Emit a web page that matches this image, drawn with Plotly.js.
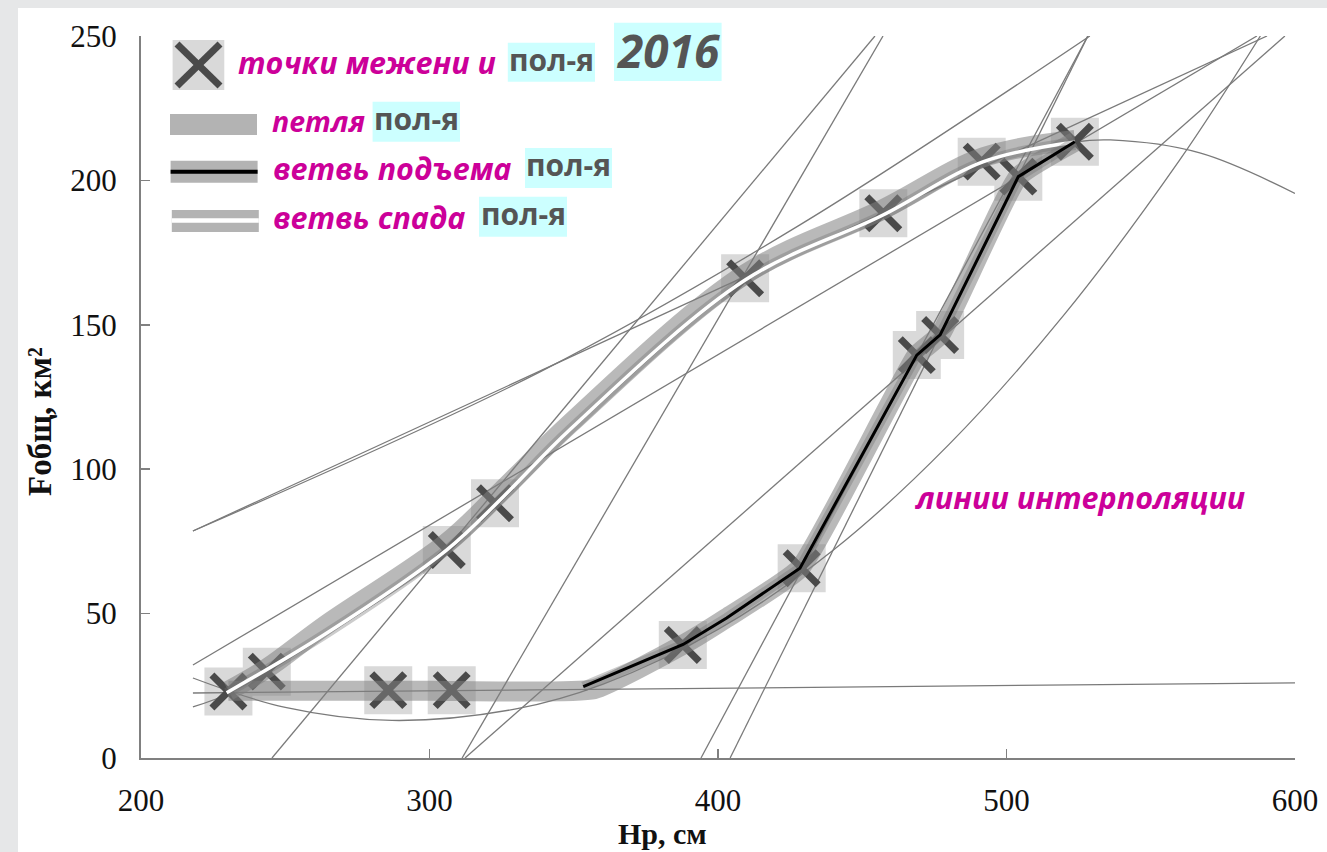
<!DOCTYPE html>
<html><head><meta charset="utf-8">
<script src="https://cdn.plot.ly/plotly-3.0.1.min.js"></script>
<style>
html,body{margin:0;padding:0;background:#e6e7e8;width:1327px;height:852px;overflow:hidden}
#chart{position:absolute;left:18px;top:8px;width:1309px;height:844px;background:#fff}
</style></head><body><div id="chart"></div>
<script>
// ---- data ----
// low-water / flood observation points (Hр, см ; Fобщ, км²)
const pointsH = [230.3, 243.6, 285.7, 307.7, 306, 322.7, 387.8, 429, 468.9, 477, 409.4, 457.3, 491.4, 504.1, 523.7];
const pointsF = [23.0, 29.9, 23.5, 23.5, 72, 88.2, 39.1, 65.7, 139.5, 146.5, 166.1, 188.6, 206.5, 201.3, 213.4];
// rising branch
const riseH = [353.3, 387.9, 403, 428.4, 468.9, 477, 504.1, 523.7];
const riseF = [24.7, 39.3, 48.5, 65.7, 139.5, 146.5, 201.3, 213.4];
// falling branch
const fallH = [523.7, 491.8, 457.2, 409.4, 349, 325.5, 305.9, 264.3, 229.7];
const fallF = [213.3, 206.4, 188, 165.5, 114, 90.4, 72, 43.2, 22.6];
// loop band (upper part, then low-water part + rise)
const loopUpH = [523.7, 492, 457.2, 409.4, 349, 325, 306, 264, 243.6, 230.3];
const loopUpF = [214, 208, 190, 167.5, 116, 92.5, 74.5, 46, 31, 23.3];
const loopLowH = [230.3, 300, 357, 388, 403, 428.4, 468.9, 477, 504.1, 523.7];
const loopLowF = [23.3, 23.3, 23.8, 39.3, 48.5, 65.7, 139.5, 146.5, 201.3, 213.4];
// interpolation lines
const interpLines = [
  {h:[218, 590.3], f:[78.6, 250]},
  {h:[218, 338.3, 428.4, 528.9], f:[78.6, 133.7, 184.6, 250]},
  {h:[218, 586.8], f:[32.2, 250]},
  {h:[218, 600], f:[22.5, 26]},
  {h:[218, 250, 287, 330, 360, 400, 440, 480, 520, 560, 588], f:[27.7, 17.5, 13, 17, 25.5, 44.5, 72, 108.5, 153.5, 207, 250]},
  {h:[218, 231, 264, 306, 349, 409.4, 457.2, 491.8, 523.7, 536, 567, 600], f:[17.7, 22.6, 42.5, 71.5, 113.5, 165, 188.3, 206, 213.3, 214, 209.5, 195.5]},
  {h:[245.4, 454.4], f:[0, 250]},
  {h:[311.3, 457.2], f:[0, 250]},
  {h:[312.3, 596.5], f:[0, 250]},
  {h:[394.1, 528.2], f:[0, 250]},
  {h:[404.2, 528.2], f:[0, 250]}
];
const xTicks = [200, 300, 400, 500, 600];
const yTicks = [0, 50, 100, 150, 200, 250];

// ---- styling helpers ----
const L = 141, R = 1295, T = 36, B = 758;
const px = x => (x - L) / (R - L);
const py = y => (B - y) / (B - T);
const MAG = '#cc0099', GR = '#555555', CY = '#ccffff';

const traces = [];
traces.push({x: pointsH, y: pointsF, mode: 'markers', type: 'scatter', hoverinfo: 'skip',
  marker: {symbol: 'square', size: 48, color: '#d9d9d9', line: {width: 0}}});
interpLines.forEach(l => traces.push({x: l.h, y: l.f, mode: 'lines', type: 'scatter', hoverinfo: 'skip',
  line: {color: '#7a7a7a', width: 1.3, shape: l.h.length > 2 ? 'spline' : 'linear'}}));
traces.push({x: pointsH, y: pointsF, mode: 'markers', type: 'scatter', hoverinfo: 'skip',
  marker: {symbol: 'x-thin-open', size: 33, color: '#4a4a4a', line: {width: 7, color: '#4a4a4a'}}});
traces.push({x: loopUpH, y: loopUpF, mode: 'lines', type: 'scatter', hoverinfo: 'skip',
  line: {color: 'rgba(128,128,128,0.55)', width: 20, shape: 'spline'}});
traces.push({x: loopLowH, y: loopLowF, mode: 'lines', type: 'scatter', hoverinfo: 'skip',
  line: {color: 'rgba(128,128,128,0.55)', width: 20, shape: 'spline', smoothing: 0.4}});
traces.push({x: fallH, y: fallF, mode: 'lines', type: 'scatter', hoverinfo: 'skip',
  line: {color: 'rgba(110,110,110,0.35)', width: 10, shape: 'spline'}});
traces.push({x: fallH, y: fallF, mode: 'lines', type: 'scatter', hoverinfo: 'skip',
  line: {color: '#ffffff', width: 3.5, shape: 'spline'}});
traces.push({x: riseH, y: riseF, mode: 'lines', type: 'scatter', hoverinfo: 'skip',
  line: {color: 'rgba(110,110,110,0.35)', width: 10}});
traces.push({x: riseH, y: riseF, mode: 'lines', type: 'scatter', hoverinfo: 'skip',
  line: {color: '#000000', width: 3}});

const shapes = [];
const rect = (x0, y0, x1, y1, c) => shapes.push({type: 'rect', xref: 'paper', yref: 'paper',
  x0: px(x0), x1: px(x1), y0: py(y1), y1: py(y0), fillcolor: c, line: {width: 0}, layer: 'above'});
const seg = (x0, y0, x1, y1, c, w) => shapes.push({type: 'line', xref: 'paper', yref: 'paper',
  x0: px(x0), x1: px(x1), y0: py(y0), y1: py(y1), line: {color: c, width: w}, layer: 'above'});
rect(172.6, 40, 224.3, 90, '#d9d9d9');
seg(177, 44, 220, 86, '#4a4a4a', 7);
seg(220, 44, 177, 86, '#4a4a4a', 7);
rect(170, 114, 257, 135, '#b3b3b3');
rect(170.6, 160.7, 257.6, 182.7, '#b3b3b3');
seg(170.6, 171.7, 257.6, 171.7, '#000000', 4);
rect(171.8, 210, 258.8, 232, '#b3b3b3');
seg(171.8, 220.5, 258.8, 220.5, '#ffffff', 4.5);
rect(507.8, 42.7, 595, 81.7, CY);
rect(614, 22.7, 721.6, 81, CY);
rect(372.6, 101.7, 460, 141.7, CY);
rect(525, 148, 612, 188, CY);
rect(479, 196.7, 567, 236.7, CY);

const ann = [];
const txt = (t, x, y, anchor, opts) => ann.push(Object.assign({text: t, xref: 'paper', yref: 'paper',
  x: px(x), y: py(y), xanchor: anchor, yanchor: 'middle', showarrow: false}, opts));
const magFont = {family: 'Open Sans', size: 30.5, color: MAG, weight: 700, style: 'italic'};
const grFont = {family: 'Open Sans', size: 30, color: GR, weight: 700};
txt('точки межени и', 236, 62, 'left', {font: magFont});
txt('пол-я', 551.4, 59, 'center', {font: grFont});
txt('2016', 668, 50, 'center', {font: {family: 'Open Sans', size: 46, color: GR, weight: 700, style: 'italic'}});
txt('петля', 270, 121, 'left', {font: Object.assign({}, magFont, {size: 28.5})});
txt('пол-я', 416.3, 118, 'center', {font: grFont});
txt('ветвь подъема', 271, 168, 'left', {font: magFont});
txt('пол-я', 568.5, 165, 'center', {font: grFont});
txt('ветвь спада', 271, 217, 'left', {font: magFont});
txt('пол-я', 523, 213.5, 'center', {font: grFont});
txt('линии интерполяции', 1080, 497, 'center', {font: magFont});

const serif = 'Liberation Serif, Times New Roman, serif';
txt('<b>Hр, см</b>', 662, 833, 'center', {font: {family: serif, size: 30, color: '#111'}});
ann.push({text: '<b>Fобщ, км²</b>', xref: 'paper', yref: 'paper', x: px(40), y: py(422), xanchor: 'center', yanchor: 'middle',
  textangle: -90, showarrow: false, font: {family: serif, size: 33, color: '#111'}});

const layout = {
  width: 1309, height: 844,
  margin: {l: 123, r: 32, t: 28, b: 94},
  paper_bgcolor: '#ffffff', plot_bgcolor: '#ffffff',
  showlegend: false,
  xaxis: {range: [200, 600], tickvals: xTicks, ticktext: xTicks.map(String), showline: true, linecolor: '#808080', linewidth: 2,
    ticks: 'inside', ticklen: 9, tickcolor: '#808080', tickwidth: 1.5, showgrid: false, zeroline: false,
    tickfont: {family: serif, size: 31, color: '#111'}, ticklabelstandoff: 14},
  yaxis: {range: [0, 250], tickvals: yTicks, ticktext: yTicks.map(String), showline: true, linecolor: '#808080', linewidth: 2,
    ticks: 'inside', ticklen: 9, tickcolor: '#808080', tickwidth: 1.5, showgrid: false, zeroline: false,
    tickfont: {family: serif, size: 31, color: '#111'}, ticklabelstandoff: 16},
  shapes: shapes, annotations: ann
};
Plotly.newPlot('chart', traces, layout, {displayModeBar: false, staticPlot: true});
</script></body></html>
